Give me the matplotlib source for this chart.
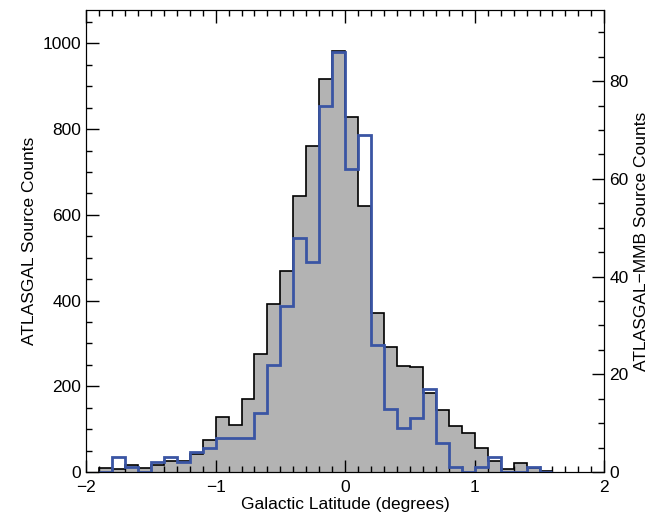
import numpy as np
import matplotlib.pyplot as plt
from matplotlib.ticker import MultipleLocator

plt.rcParams['font.family'] = ['Liberation Sans', 'DejaVu Sans']
plt.rcParams['font.size'] = 12.5

edges = np.round(np.arange(-1.9, 1.61, 0.1), 2)
atlasgal = [9, 7, 16, 9, 16, 26, 25, 43, 75, 128, 109, 171, 275, 391, 468, 644, 760, 916, 981,
            827, 620, 370, 292, 248, 244, 184, 144, 108, 91, 56, 26, 7, 21, 9, 2]
mmb = [0, 3, 1, 0, 2, 3, 2, 4, 5, 7, 7, 7, 12, 22, 34, 48, 43, 75,
       86, 62, 69, 26, 13, 9, 11, 17, 6, 1, 0, 1, 3, 0, 0, 1, 0]

fig = plt.figure(figsize=(6.67, 5.21), dpi=100)
ax = fig.add_axes([0.129, 0.094, 0.777, 0.887])
ax2 = ax.twinx()

ax.stairs(atlasgal, edges, fill=True, color='#b3b3b3', baseline=0)
ax.stairs(atlasgal, edges, color='black', lw=1.2, baseline=0)
ax2.stairs(mmb, edges, color='#3a55a4', lw=2, baseline=0)

ax.set_ylim(0, 1078)
ax2.set_ylim(0, 94.6)
ax.set_xticks([-2, -1, 0, 1, 2])
ax.set_xticklabels(['\u22122', '\u22121', '0', '1', '2'])
ax.xaxis.set_minor_locator(MultipleLocator(0.1))
ax.set_xlim(-2, 2)
ax2.set_xlim(-2, 2)
ax.yaxis.set_major_locator(MultipleLocator(200))
ax.yaxis.set_minor_locator(MultipleLocator(50))
ax2.yaxis.set_major_locator(MultipleLocator(20))
ax2.yaxis.set_minor_locator(MultipleLocator(5))
for a in (ax, ax2):
    a.tick_params(which='both', direction='in', top=True, width=1)
    a.tick_params(which='major', length=9)
    a.tick_params(which='minor', length=4)
ax.tick_params(axis='y', which='both', right=False)
ax.tick_params(axis='x', pad=6)

ax.set_xlabel('Galactic Latitude (degrees)', labelpad=1)
ax.set_ylabel('ATLASGAL Source Counts')
ax2.set_ylabel('ATLASGAL\u2212MMB Source Counts')

fig.savefig('out.png')
